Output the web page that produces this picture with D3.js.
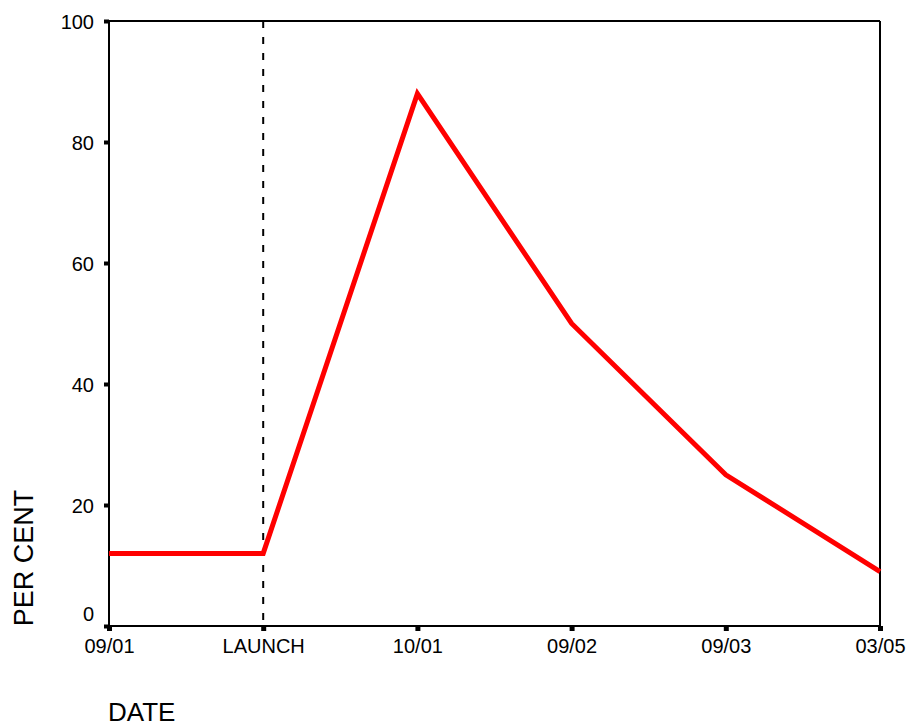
<!DOCTYPE html>
<html>
<head>
<meta charset="utf-8">
<script src="https://cdn.jsdelivr.net/npm/d3@7"></script>
<style>
  html, body { margin: 0; padding: 0; background: #fff; }
  svg { display: block; font-family: "Liberation Sans", Arial, sans-serif; }
</style>
</head>
<body>
<svg id="chart" width="908" height="727"></svg>
<script>
const categories = ["09/01", "LAUNCH", "10/01", "09/02", "09/03", "03/05"];
const values = [12, 12, 88, 50, 25, 9];
const yTicks = [0, 20, 40, 60, 80, 100];
const markerCategory = "LAUNCH";
const xTitle = "DATE";
const yTitle = "PER CENT";

const svg = d3.select("#chart");
const plotLeft = 109, plotRight = 880, plotTop = 21, plotBottom = 626;

const x = d3.scalePoint().domain(categories).range([plotLeft, plotRight]);
const y = d3.scaleLinear().domain([0, 100]).range([plotBottom, plotTop]);

// frame (top and right)
svg.append("line").attr("x1", plotLeft).attr("x2", plotRight).attr("y1", plotTop).attr("y2", plotTop)
  .attr("stroke", "#000").attr("stroke-width", 2);
svg.append("line").attr("x1", plotRight).attr("x2", plotRight).attr("y1", plotTop).attr("y2", plotBottom)
  .attr("stroke", "#000").attr("stroke-width", 2);

// dashed launch marker
svg.append("line")
  .attr("x1", x(markerCategory)).attr("x2", x(markerCategory))
  .attr("y1", plotTop).attr("y2", plotBottom)
  .attr("stroke", "#000").attr("stroke-width", 2)
  .attr("stroke-dasharray", "7,9");

// y axis
const yAxis = d3.axisLeft(y).tickValues(yTicks).tickSize(5).tickPadding(10).tickFormat(d3.format("d"));
const gy = svg.append("g").attr("transform", `translate(${plotLeft},0)`).call(yAxis);
gy.select(".domain").attr("stroke", "#000").attr("stroke-width", 2).attr("d", `M0,${plotTop}V${plotBottom + 1}`);
gy.selectAll(".tick line").attr("stroke", "#000").attr("stroke-width", 4);
gy.selectAll(".tick text").attr("font-size", 20).attr("fill", "#000")
  .attr("font-family", "Liberation Sans, Arial, sans-serif")
  .attr("dy", d => d === 0 ? "-0.28em" : "0.35em");

// x axis
const xAxis = d3.axisBottom(x).tickSize(5).tickPadding(8);
const gx = svg.append("g").attr("transform", `translate(0,${plotBottom})`).call(xAxis);
gx.select(".domain").attr("stroke", "#000").attr("stroke-width", 2).attr("d", `M${plotLeft - 1},0H${plotRight + 1}`);
gx.selectAll(".tick line").attr("stroke", "#000").attr("stroke-width", 5);
gx.selectAll(".tick text").attr("font-size", 20).attr("fill", "#000")
  .attr("font-family", "Liberation Sans, Arial, sans-serif");

// data line
const line = d3.line().x((d, i) => x(categories[i])).y(d => y(d));
svg.append("path").datum(values)
  .attr("d", line)
  .attr("fill", "none")
  .attr("stroke", "#ff0000")
  .attr("stroke-width", 5)
  .attr("stroke-linejoin", "miter");

// titles
svg.append("text").text(xTitle)
  .attr("x", 108).attr("y", 721)
  .attr("font-size", 26).attr("fill", "#000");
svg.append("text").text(yTitle)
  .attr("transform", "translate(33,558) rotate(-90)")
  .attr("text-anchor", "middle")
  .attr("font-size", 27).attr("fill", "#000");
</script>
</body>
</html>
